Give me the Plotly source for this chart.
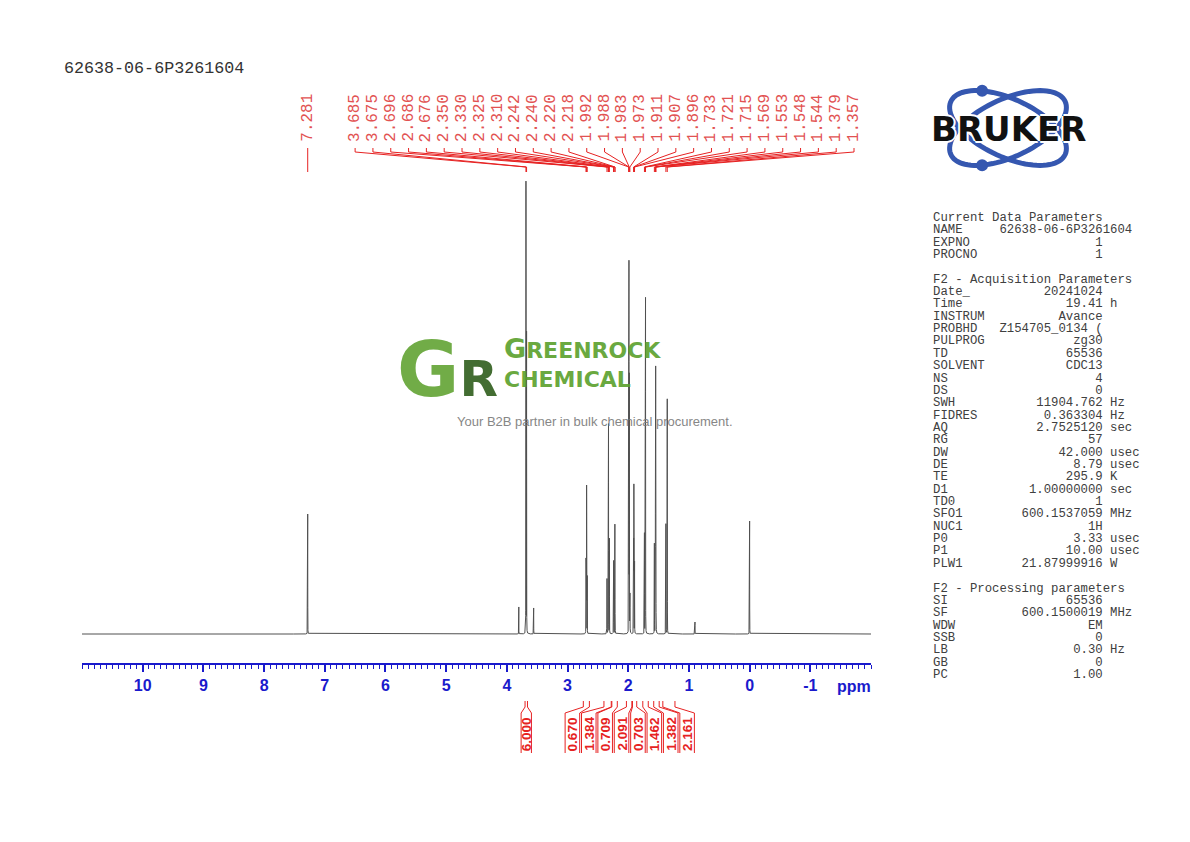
import numpy as np
import plotly.graph_objects as go

W, H = 1190, 842

sample_name = "62638-06-6P3261604"

# ppm tick labels on the axis
tick_ppm = [10, 9, 8, 7, 6, 5, 4, 3, 2, 1, 0, -1]

# peaks: position (ppm) and height (y units ~ screen px)
peak_ppm = [7.281, 3.803, 3.685, 3.675, 3.558,
            2.696, 2.686, 2.676,
            2.350, 2.330, 2.325, 2.310,
            2.242, 2.240, 2.220, 2.218,
            1.992, 1.988, 1.983, 1.973,
            1.911, 1.907, 1.896,
            1.733, 1.721, 1.715,
            1.569, 1.553, 1.548, 1.544,
            1.379, 1.357, 0.900, 0.000]
peak_height = [120, 27, 451, 300, 26,
               75, 148, 80,
               55, 122, 207, 95,
               60, 65, 100, 70,
               130, 362, 250, 175,
               90, 146, 100,
               100, 140, 334,
               90, 112, 258, 185,
               110, 235, 12, 113]

# printed peak picks
solvent_pick = 7.281
pick_ppm = [3.685, 3.675, 2.696, 2.686, 2.676, 2.350, 2.330, 2.325, 2.310,
            2.242, 2.240, 2.220, 2.218, 1.992, 1.988, 1.983, 1.973,
            1.911, 1.907, 1.896, 1.733, 1.721, 1.715, 1.569, 1.553,
            1.548, 1.544, 1.379, 1.357]

# integrals: value and region limits (ppm)
integral_values = ["6.000", "0.670", "1.384", "0.709", "2.091", "0.703", "1.462", "1.382", "2.161"]
integral_from = [3.70, 2.74, 2.40, 2.27, 2.03, 1.93, 1.76, 1.58, 1.43]
integral_to = [3.66, 2.64, 2.28, 2.18, 1.94, 1.86, 1.67, 1.49, 1.23]

# acquisition / processing parameters
current_params = [("NAME", "62638-06-6P3261604", ""), ("EXPNO", "1", ""), ("PROCNO", "1", "")]
acq_params = [("Date_", "20241024", ""), ("Time", "19.41", "h"), ("INSTRUM", "Avance", ""),
              ("PROBHD", "Z154705_0134 (", ""), ("PULPROG", "zg30", ""), ("TD", "65536", ""),
              ("SOLVENT", "CDC13", ""), ("NS", "4", ""), ("DS", "0", ""),
              ("SWH", "11904.762", "Hz"), ("FIDRES", "0.363304", "Hz"), ("AQ", "2.7525120", "sec"),
              ("RG", "57", ""), ("DW", "42.000", "usec"), ("DE", "8.79", "usec"),
              ("TE", "295.9", "K"), ("D1", "1.00000000", "sec"), ("TD0", "1", ""),
              ("SFO1", "600.1537059", "MHz"), ("NUC1", "1H", ""), ("P0", "3.33", "usec"),
              ("P1", "10.00", "usec"), ("PLW1", "21.87999916", "W")]
proc_params = [("SI", "65536", ""), ("SF", "600.1500019", "MHz"), ("WDW", "EM", ""),
               ("SSB", "0", ""), ("LB", "0.30", "Hz"), ("GB", "0", ""), ("PC", "1.00", "")]

BLUE = "#1a1acc"
RED = "#e62222"
LABEL_RED = "#e25252"


def px(x):
    return x / W


def py(y):
    return 1 - y / H


# spectrum as sum of narrow lorentzians at the picked peaks
hw = 0.0008
ppm = np.union1d(np.arange(-2.0, 11.0, 0.0005), peak_ppm)
inten = np.zeros_like(ppm)
for p, h in zip(peak_ppm, peak_height):
    inten += h / (1 + ((ppm - p) / hw) ** 2)

fig = go.Figure()
fig.add_trace(go.Scatter(x=ppm, y=inten, mode="lines", line=dict(color="#505050", width=1),
                         hoverinfo="skip", showlegend=False))

# peak pick connector lines (y2 = pixels from top)
lx, ly = [solvent_pick, solvent_pick, None], [148, 172, None]
spread = np.linspace(6.50, -1.72, len(pick_ppm))
for p, s in zip(pick_ppm, spread):
    lx += [s, s, p, p, None]
    ly += [148, 152, 167, 172, None]
fig.add_trace(go.Scatter(x=lx, y=ly, xaxis="x", yaxis="y2", mode="lines",
                         line=dict(color=RED, width=1), hoverinfo="skip", showlegend=False))

# integral brackets
centers = [3.68] + list(np.linspace(2.92, 1.03, len(integral_values) - 1))
halfw = [0.085] + [0.12] * (len(integral_values) - 1)
ix, iy = [], []
for a, b, c, h in zip(integral_from, integral_to, centers, halfw):
    ix += [a, a, c + h, c + h, None, b, b, c - h, c - h, None]
    iy += [701, 707, 713, 753, None, 701, 707, 713, 753, None]
fig.add_trace(go.Scatter(x=ix, y=iy, xaxis="x", yaxis="y2", mode="lines",
                         line=dict(color=RED, width=1), hoverinfo="skip", showlegend=False))

ann = []
# pick labels
mono = "Liberation Mono"
ann.append(dict(x=solvent_pick, y=144, xref="x", yref="y2", text=f"{solvent_pick:.3f}",
                textangle=-90, showarrow=False, xanchor="center", yanchor="bottom",
                font=dict(family=mono, size=16, color=LABEL_RED)))
for p, s in zip(pick_ppm, spread):
    ann.append(dict(x=s, y=144, xref="x", yref="y2", text=f"{p:.3f}", textangle=-90,
                    showarrow=False, xanchor="center", yanchor="bottom",
                    font=dict(family=mono, size=16, color=LABEL_RED)))
# integral labels
for v, c in zip(integral_values, centers):
    ann.append(dict(x=c, y=734, xref="x", yref="y2", text=v, textangle=-90, showarrow=False,
                    xanchor="center", yanchor="middle",
                    font=dict(family="Liberation Sans", size=13.5, color=RED, weight="bold")))
# ppm axis title
ann.append(dict(x=-1.72, y=py(686), xref="x", yref="paper", text="ppm", showarrow=False,
                xanchor="center", yanchor="middle",
                font=dict(family="Liberation Sans", size=16, color=BLUE, weight="bold")))
# sample name
ann.append(dict(x=px(62), y=py(68), xref="paper", yref="paper", text=sample_name,
                showarrow=False, xanchor="left", yanchor="middle",
                font=dict(family=mono, size=16.7, color="#333333")))

# parameter panel
lines = ["Current Data Parameters"]
for n, v, u in current_params:
    lines.append(f"{n:<9}{v}" if len(v) > 15 else f"{n:<8}{v:>15}" + (f" {u}" if u else ""))
lines += ["", "F2 - Acquisition Parameters"]
for n, v, u in acq_params:
    lines.append(f"{n:<8}{v:>15}" + (f" {u}" if u else ""))
lines += ["", "F2 - Processing parameters"]
for n, v, u in proc_params:
    lines.append(f"{n:<8}{v:>15}" + (f" {u}" if u else ""))
for i, t in enumerate(lines):
    if not t:
        continue
    ann.append(dict(x=px(931), y=py(218 + i * 12.35), xref="paper", yref="paper",
                    text=t.replace(" ", "\u00a0"), showarrow=False, xanchor="left", yanchor="middle",
                    font=dict(family=mono, size=12.3, color="#404040")))

# Bruker logo
shapes = []
cx, cy, a, b = 1008, 128, 63, 29
t = np.linspace(0, 2 * np.pi, 90)
for sgn in (1, -1):
    th = np.radians(25) * sgn
    ex = cx + a * np.cos(t) * np.cos(th) - b * np.sin(t) * np.sin(th)
    ey = cy + a * np.cos(t) * np.sin(th) + b * np.sin(t) * np.cos(th)
    path = "M " + " L ".join(f"{px(u):.5f},{py(v):.5f}" for u, v in zip(ex, ey)) + " Z"
    shapes.append(dict(type="path", path=path, xref="paper", yref="paper",
                       line=dict(color="#3557b0", width=5)))
    tt = np.pi + 0.9 * sgn
    dx = cx + a * np.cos(tt) * np.cos(th) - b * np.sin(tt) * np.sin(th)
    dy = cy + a * np.cos(tt) * np.sin(th) + b * np.sin(tt) * np.cos(th)
    r = 6
    shapes.append(dict(type="circle", xref="paper", yref="paper",
                       x0=px(dx - r), x1=px(dx + r), y0=py(dy + r), y1=py(dy - r),
                       fillcolor="#3557b0", line=dict(width=0)))
ann.append(dict(x=px(1008), y=py(129), xref="paper", yref="paper", text="BRUKER",
                showarrow=False, xanchor="center", yanchor="middle",
                font=dict(family="DejaVu Sans", size=34, color="#111111", weight="bold",
                          shadow="2px 0 0 #fff, -2px 0 0 #fff, 0 2px 0 #fff, 0 -2px 0 #fff")))

# Greenrock watermark
ann.append(dict(x=px(500), y=py(369), xref="paper", yref="paper",
                text="<span style='color:#62a434'>G</span>"
                     "<span style='color:#2f5e1c;font-size:50px'>R</span>",
                showarrow=False, xanchor="right", yanchor="middle", opacity=0.9,
                font=dict(family="DejaVu Sans", size=76, color="#62a434", weight="bold")))
ann.append(dict(x=px(502), y=py(349), xref="paper", yref="paper",
                text="<span style='font-size:27px'>G</span>REENROCK", showarrow=False,
                xanchor="left", yanchor="middle", opacity=0.9,
                font=dict(family="DejaVu Sans", size=22, color="#5aa02c", weight="bold")))
ann.append(dict(x=px(502), y=py(380), xref="paper", yref="paper", text="CHEMICAL", showarrow=False,
                xanchor="left", yanchor="middle", opacity=0.9,
                font=dict(family="DejaVu Sans", size=22, color="#5aa02c", weight="bold")))
ann.append(dict(x=px(594.5), y=py(421), xref="paper", yref="paper",
                text="Your B2B partner in bulk chemical procurement.", showarrow=False,
                xanchor="center", yanchor="middle", opacity=0.9,
                font=dict(family="Liberation Sans", size=13, color="#7a7a7a")))

fig.update_layout(
    width=W, height=H, margin=dict(l=0, r=0, t=0, b=0),
    paper_bgcolor="white", plot_bgcolor="rgba(0,0,0,0)",
    showlegend=False, annotations=ann, shapes=shapes,
    xaxis=dict(domain=[px(82), px(871)], range=[11, -2], anchor="free", position=py(664),
               showline=True, linecolor=BLUE, linewidth=1.5, ticks="outside", ticklen=7,
               tickwidth=1.5, tickcolor=BLUE, tickmode="array", tickvals=tick_ppm,
               ticktext=[str(v) for v in tick_ppm], showgrid=False, zeroline=False,
               tickfont=dict(family="Liberation Sans", size=16, color=BLUE, weight="bold"),
               minor=dict(tickmode="linear", tick0=0, dtick=0.1, ticks="outside", ticklen=4,
                          tickwidth=1, tickcolor=BLUE, showgrid=False)),
    yaxis=dict(domain=[(H - 639) / H, (H - 174) / H], range=[-5, 460], visible=False,
               anchor="x"),
    yaxis2=dict(domain=[0, 1], range=[H, 0], visible=False, anchor="x"),
)

fig.write_html("out.html", config={"displayModeBar": False},
               post_script="document.body.style.margin='0px';")
